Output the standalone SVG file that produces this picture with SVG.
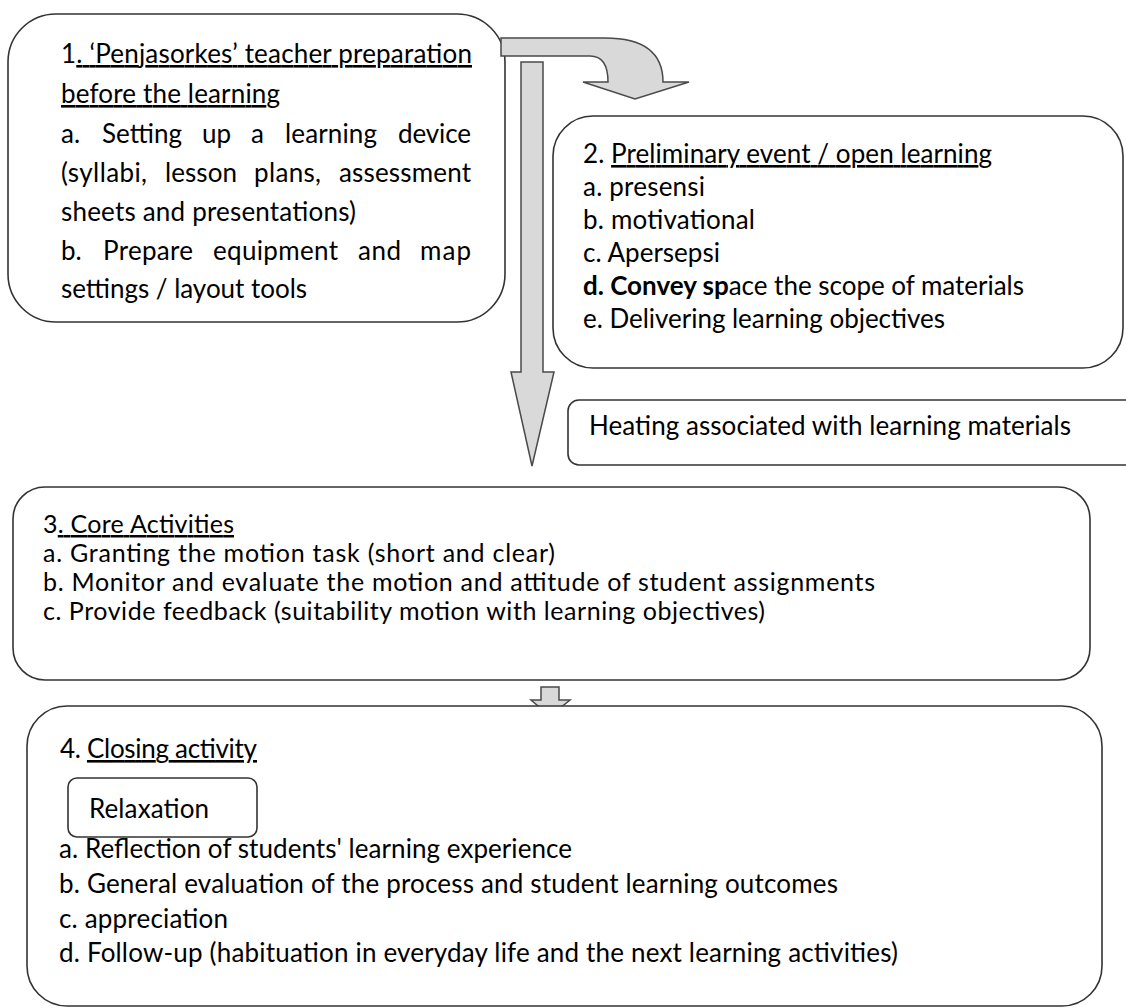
<svg xmlns="http://www.w3.org/2000/svg" width="1126" height="1008" viewBox="0 0 1126 1008">
  <style>
    .box { fill: #ffffff; stroke: #333333; stroke-width: 1.6; }
    .arrow { fill: #d9d9d9; stroke: #4a4a4a; stroke-width: 1.5; stroke-linejoin: miter; }
    text { font-family: Lato, "Open Sans", "Liberation Sans", sans-serif; font-size: 26px; fill: #000000; }
    .tight { font-size: 25px; }
    .u { text-decoration: underline; }
    .b { font-weight: bold; }
  </style>
  <rect x="0" y="0" width="1126" height="1008" fill="#ffffff"/>

  <!-- Step 1: teacher preparation -->
  <g id="node-preparation">
    <rect class="box" x="8" y="14" width="497" height="308" rx="48" ry="48"/>
    <text x="61" y="63" textLength="411" lengthAdjust="spacing">1<tspan class="u">. ‘Penjasorkes’ teacher preparation</tspan></text>
    <text x="61" y="103" textLength="219" lengthAdjust="spacing" class="u">before the learning</text>
    <text x="61" y="143">a.</text>
    <text x="102" y="143" textLength="80" lengthAdjust="spacing">Setting</text>
    <text x="202" y="143" textLength="29" lengthAdjust="spacing">up</text>
    <text x="251" y="143">a</text>
    <text x="285" y="143" textLength="92" lengthAdjust="spacing">learning</text>
    <text x="398" y="143" textLength="73" lengthAdjust="spacing">device</text>
    <text x="61" y="182" textLength="86" lengthAdjust="spacing">(syllabi,</text>
    <text x="165" y="182" textLength="72" lengthAdjust="spacing">lesson</text>
    <text x="254" y="182" textLength="67" lengthAdjust="spacing">plans,</text>
    <text x="339" y="182" textLength="132" lengthAdjust="spacing">assessment</text>
    <text x="61" y="221" textLength="295" lengthAdjust="spacing">sheets and presentations)</text>
    <text x="61" y="260">b.</text>
    <text x="103" y="260" textLength="90" lengthAdjust="spacing">Prepare</text>
    <text x="213" y="260" textLength="125" lengthAdjust="spacing">equipment</text>
    <text x="358" y="260" textLength="43" lengthAdjust="spacing">and</text>
    <text x="420" y="260" textLength="51" lengthAdjust="spacing">map</text>
    <text x="61" y="298" textLength="246" lengthAdjust="spacing">settings / layout tools</text>
  </g>

  <!-- Step 2: opening the lesson -->
  <g id="node-preliminary">
    <rect class="box" x="553" y="116" width="570" height="252" rx="40" ry="40"/>
    <text x="583" y="163" textLength="409" lengthAdjust="spacing">2. <tspan class="u">Preliminary event / open learning</tspan></text>
    <text x="583" y="196" textLength="122" lengthAdjust="spacing">a. presensi</text>
    <text x="583" y="229" textLength="172" lengthAdjust="spacing">b. motivational</text>
    <text x="583" y="262" textLength="137" lengthAdjust="spacing">c. Apersepsi</text>
    <text x="583" y="295" textLength="441" lengthAdjust="spacing"><tspan class="b">d. Convey sp</tspan>ace the scope of materials</text>
    <text x="583" y="328" textLength="362" lengthAdjust="spacing">e. Delivering learning objectives</text>
  </g>

  <!-- Warm-up note -->
  <g id="node-heating">
    <rect class="box" x="568" y="400" width="590" height="65" rx="11" ry="11"/>
    <text x="589" y="435" textLength="482" lengthAdjust="spacing">Heating associated with learning materials</text>
  </g>

  <!-- Step 3: core activities -->
  <g id="node-core">
    <rect class="box" x="13" y="487" width="1077" height="193" rx="32" ry="32"/>
    <text class="tight" x="43" y="533" textLength="191" lengthAdjust="spacing">3<tspan class="u">. Core Activities</tspan></text>
    <text class="tight" x="43" y="562" textLength="512" lengthAdjust="spacing">a. Granting the motion task (short and clear)</text>
    <text class="tight" x="43" y="591" textLength="832" lengthAdjust="spacing">b. Monitor and evaluate the motion and attitude of student assignments</text>
    <text class="tight" x="43" y="620" textLength="722" lengthAdjust="spacing">c. Provide feedback (suitability motion with learning objectives)</text>
  </g>

  <!-- Flow arrows -->
  <g id="connectors">
    <path class="arrow" d="M501,38 L605,38 Q663,38 663,82 L689,82 L635,99 L583,82 L608,82 Q608,56 590,56 L501,56 Z"/>
    <path class="arrow" d="M521,62 L543,62 L543,372 L554,372 L532,466 L511,372 L521,372 Z"/>
    <path class="arrow" d="M541,687 L559,687 L559,700 L570,700 L550,716 L531,700 L541,700 Z"/>
  </g>

  <!-- Step 4: closing -->
  <g id="node-closing">
    <rect class="box" x="27" y="706" width="1075" height="300" rx="40" ry="40"/>
    <text x="60" y="758" textLength="197" lengthAdjust="spacing">4. <tspan class="u">Closing activity</tspan></text>
    <g id="node-relaxation">
      <rect class="box" x="68" y="778" width="189" height="59" rx="9" ry="9"/>
      <text x="89" y="818" textLength="120" lengthAdjust="spacing">Relaxation</text>
    </g>
    <text x="59" y="858" textLength="513" lengthAdjust="spacing">a. Reflection of students' learning experience</text>
    <text x="59" y="893" textLength="779" lengthAdjust="spacing">b. General evaluation of the process and student learning outcomes</text>
    <text x="59" y="928" textLength="169" lengthAdjust="spacing">c. appreciation</text>
    <text x="59" y="962" textLength="839" lengthAdjust="spacing">d. Follow-up (habituation in everyday life and the next learning activities)</text>
  </g>
</svg>
